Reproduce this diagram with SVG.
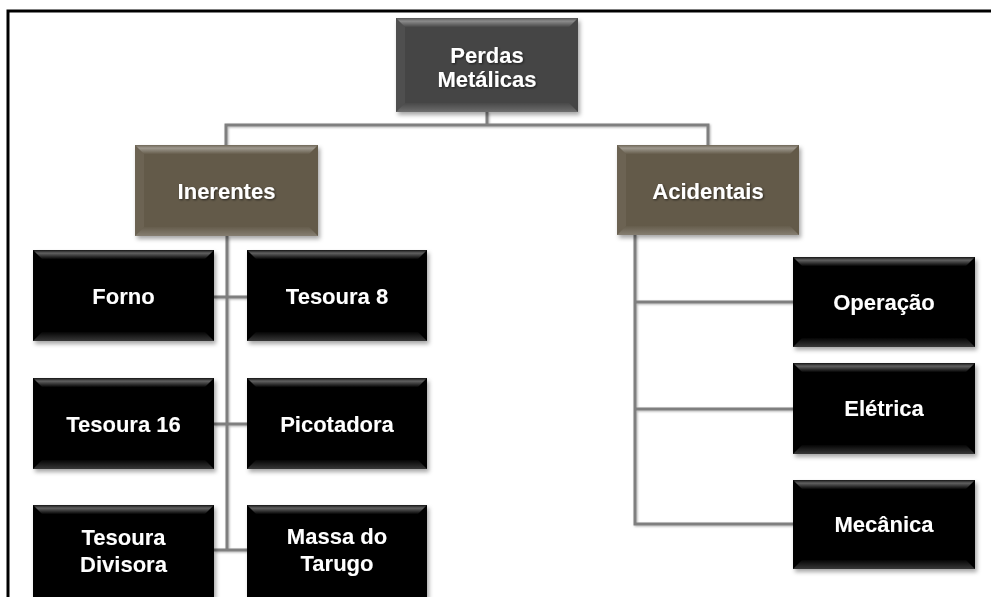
<svg xmlns="http://www.w3.org/2000/svg" width="991" height="597" viewBox="0 0 991 597">
<defs>
<linearGradient id="topG" x1="0" y1="0" x2="0" y2="1">
<stop offset="0" stop-color="#fff" stop-opacity="0.08"/>
<stop offset="0.35" stop-color="#fff" stop-opacity="0.38"/>
<stop offset="1" stop-color="#fff" stop-opacity="0.02"/>
</linearGradient>
<linearGradient id="botG" x1="0" y1="0" x2="0" y2="1">
<stop offset="0" stop-color="#fff" stop-opacity="0.02"/>
<stop offset="1" stop-color="#fff" stop-opacity="0.22"/>
</linearGradient>
<filter id="sh" x="-10%" y="-10%" width="125%" height="130%">
<feDropShadow dx="2" dy="3" stdDeviation="2" flood-color="#000" flood-opacity="0.35"/>
</filter>
<filter id="lsh" filterUnits="userSpaceOnUse" x="0" y="0" width="991" height="597">
<feDropShadow dx="1" dy="1" stdDeviation="1" flood-color="#000" flood-opacity="0.3"/>
</filter>
<filter id="tsh" x="-10%" y="-30%" width="125%" height="160%">
<feDropShadow dx="1" dy="1" stdDeviation="1" flood-color="#000" flood-opacity="0.6"/>
</filter>
</defs>
<style>
.frame{stroke:#000;stroke-width:3;fill:none}
.conn{stroke:#7f7f7f;stroke-width:3;fill:none}
.gray{fill:#444}
.brown{fill:#635a48}
.black{fill:#000}
.top{fill:url(#topG)}
.bot{fill:url(#botG)}
.side{fill:#fff;fill-opacity:0.06}
.box{filter:url(#sh)}
text{font-family:"Liberation Sans",Arial,sans-serif;font-weight:bold;font-size:22px;fill:#fff;text-anchor:middle;filter:url(#tsh)}
</style>
<rect width="991" height="597" fill="#fff"/>
<path class="frame" d="M8 597 V11 H991"/>
<g id="connectors" filter="url(#lsh)">
<path class="conn" d="M487 112 V125"/>
<path class="conn" d="M226 145 V125 H708 V145"/>
<path class="conn" d="M227 236 V550"/>
<path class="conn" d="M214 297 H247"/>
<path class="conn" d="M214 424 H247"/>
<path class="conn" d="M214 550 H247"/>
<path class="conn" d="M635 235 V524 H793"/>
<path class="conn" d="M635 302 H793"/>
<path class="conn" d="M635 409 H793"/>
</g>
<g id="perdas">
<g class="box"><rect class="gray" x="396" y="18" width="182" height="94"/></g>
<polygon class="top" points="396,18 578,18 569,27 405,27"/>
<polygon class="bot" points="396,112 578,112 569,103 405,103"/>
<polygon class="side" points="396,18 405,27 405,103 396,112"/>
<text x="487" y="63">Perdas</text>
<text x="487" y="87">Metálicas</text>
</g>
<g id="inerentes">
<g class="box"><rect class="brown" x="135" y="145" width="183" height="91"/></g>
<polygon class="top" points="135,145 318,145 309,154 144,154"/>
<polygon class="bot" points="135,236 318,236 309,227 144,227"/>
<polygon class="side" points="135,145 144,154 144,227 135,236"/>
<text x="226.5" y="199">Inerentes</text>
</g>
<g id="acidentais">
<g class="box"><rect class="brown" x="617" y="145" width="182" height="90"/></g>
<polygon class="top" points="617,145 799,145 790,154 626,154"/>
<polygon class="bot" points="617,235 799,235 790,226 626,226"/>
<polygon class="side" points="617,145 626,154 626,226 617,235"/>
<text x="708" y="199">Acidentais</text>
</g>
<g id="forno">
<g class="box"><rect class="black" x="33" y="250" width="181" height="91"/></g>
<polygon class="top" points="33,250 214,250 205,259 42,259"/>
<polygon class="bot" points="33,341 214,341 205,332 42,332"/>
<text x="123.5" y="304">Forno</text>
</g>
<g id="tesoura8">
<g class="box"><rect class="black" x="247" y="250" width="180" height="91"/></g>
<polygon class="top" points="247,250 427,250 418,259 256,259"/>
<polygon class="bot" points="247,341 427,341 418,332 256,332"/>
<text x="337" y="304">Tesoura 8</text>
</g>
<g id="tesoura16">
<g class="box"><rect class="black" x="33" y="378" width="181" height="91"/></g>
<polygon class="top" points="33,378 214,378 205,387 42,387"/>
<polygon class="bot" points="33,469 214,469 205,460 42,460"/>
<text x="123.5" y="432">Tesoura 16</text>
</g>
<g id="picotadora">
<g class="box"><rect class="black" x="247" y="378" width="180" height="91"/></g>
<polygon class="top" points="247,378 427,378 418,387 256,387"/>
<polygon class="bot" points="247,469 427,469 418,460 256,460"/>
<text x="337" y="432">Picotadora</text>
</g>
<g id="tesouradivisora">
<g class="box"><rect class="black" x="33" y="505" width="181" height="92"/></g>
<polygon class="top" points="33,505 214,505 205,514 42,514"/>
<text x="123.5" y="545">Tesoura</text>
<text x="123.5" y="572">Divisora</text>
</g>
<g id="massatarugo">
<g class="box"><rect class="black" x="247" y="505" width="180" height="92"/></g>
<polygon class="top" points="247,505 427,505 418,514 256,514"/>
<text x="337" y="544">Massa do</text>
<text x="337" y="571">Tarugo</text>
</g>
<g id="operacao">
<g class="box"><rect class="black" x="793" y="257" width="182" height="90"/></g>
<polygon class="top" points="793,257 975,257 966,266 802,266"/>
<polygon class="bot" points="793,347 975,347 966,338 802,338"/>
<text x="884" y="310">Operação</text>
</g>
<g id="eletrica">
<g class="box"><rect class="black" x="793" y="363" width="182" height="91"/></g>
<polygon class="top" points="793,363 975,363 966,372 802,372"/>
<polygon class="bot" points="793,454 975,454 966,445 802,445"/>
<text x="884" y="416">Elétrica</text>
</g>
<g id="mecanica">
<g class="box"><rect class="black" x="793" y="480" width="182" height="89"/></g>
<polygon class="top" points="793,480 975,480 966,489 802,489"/>
<polygon class="bot" points="793,569 975,569 966,560 802,560"/>
<text x="884" y="532">Mecânica</text>
</g>
</svg>
